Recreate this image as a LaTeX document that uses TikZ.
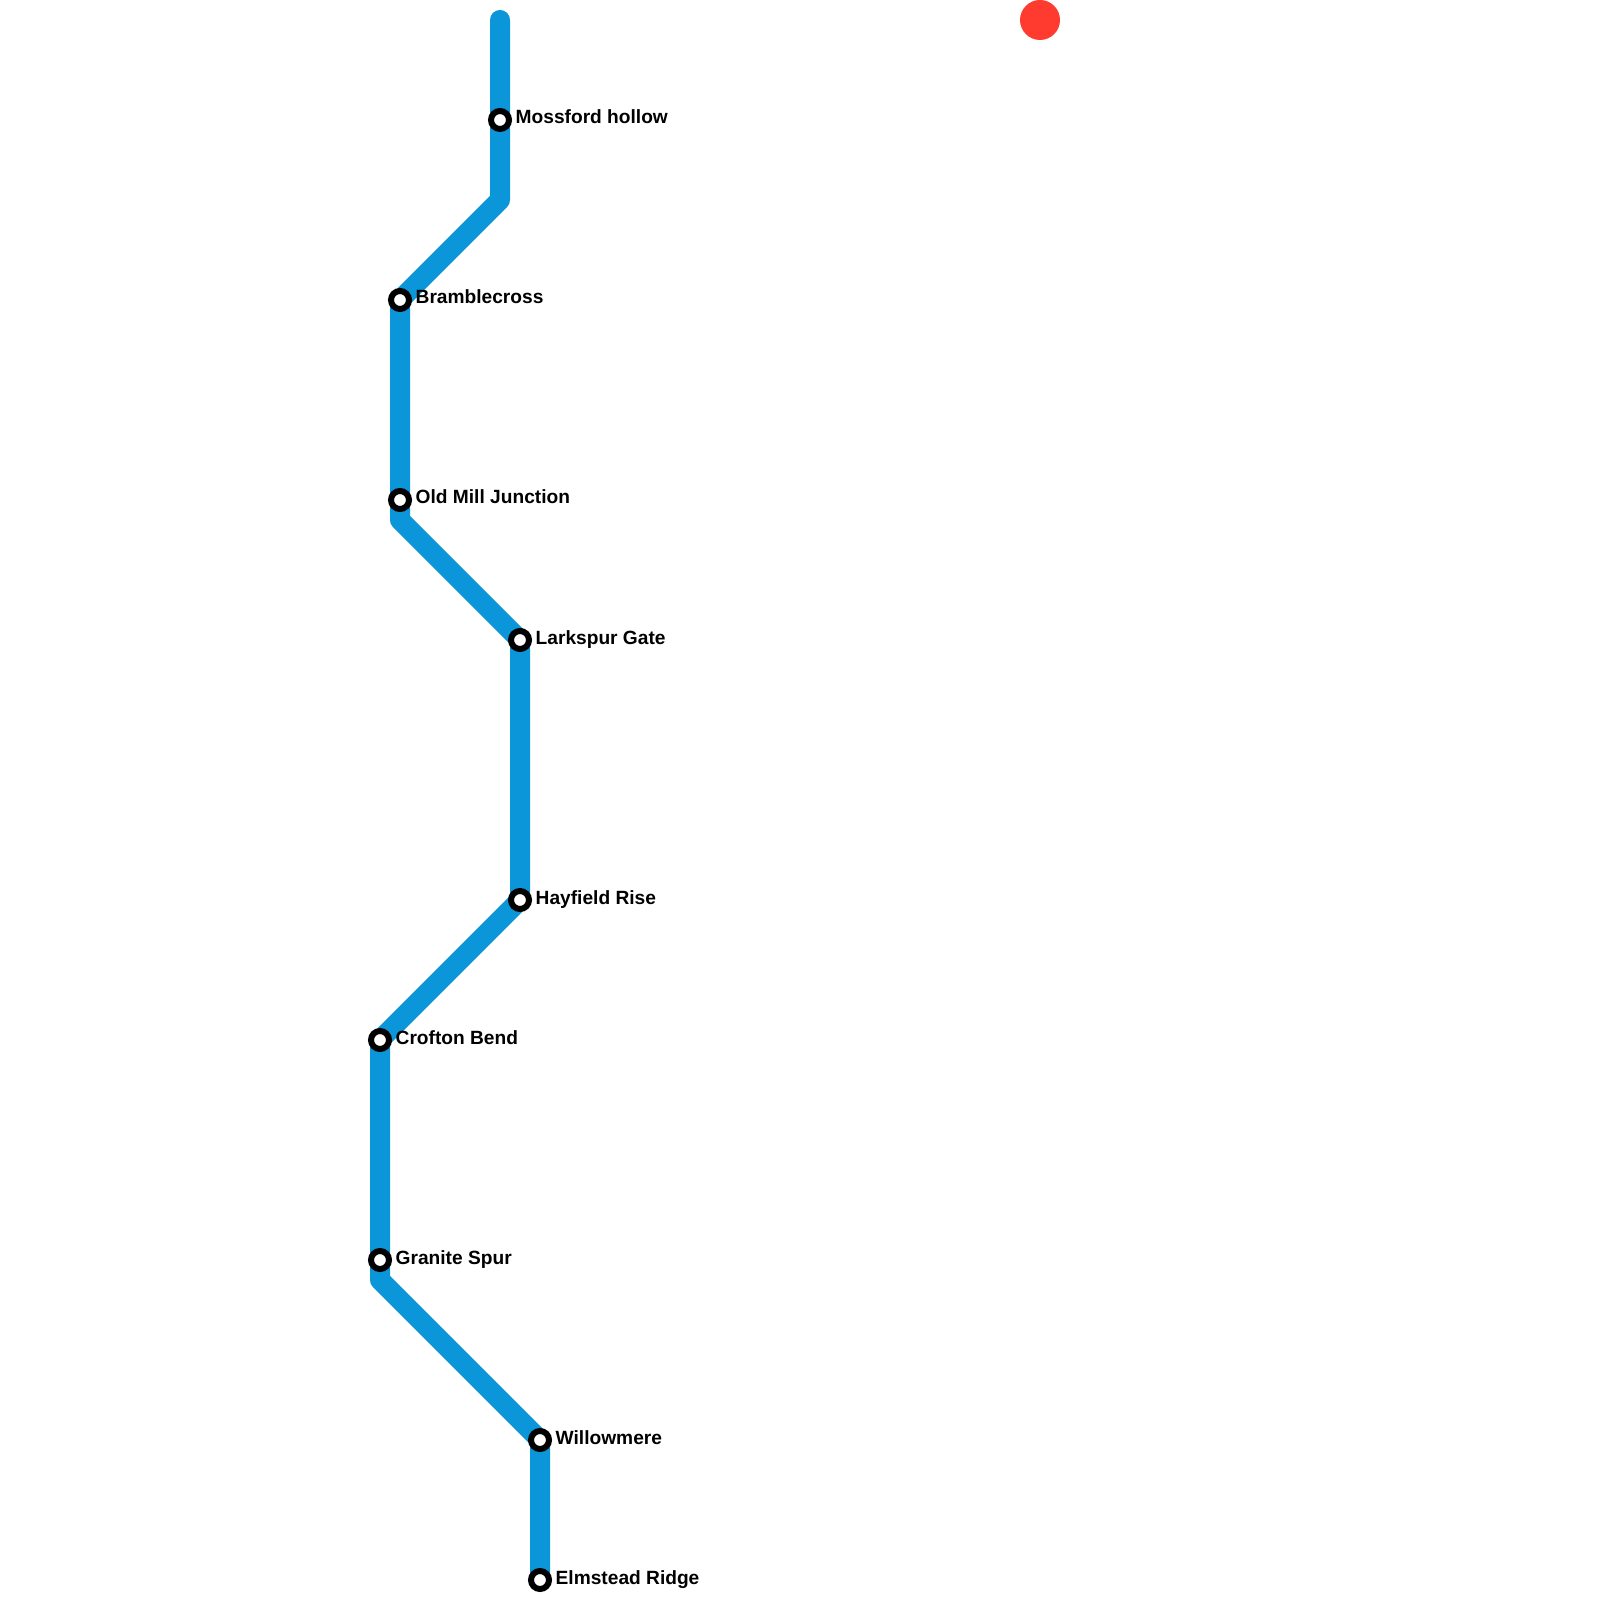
\documentclass[tikz,border=0pt]{standalone}
\usepackage{fontspec}
\setmainfont{Liberation Sans}
\usetikzlibrary{backgrounds}
\definecolor{linea}{HTML}{0A96D8}
\definecolor{marca}{HTML}{FF3B30}
\tikzset{
  tramo/.style={draw=linea,line width=0.2cm,line cap=round,line join=round},
  parada/.style={circle,draw=black,fill=white,line width=0.06cm,minimum size=0.18cm,inner sep=0pt},
  rotulo/.style={anchor=base west,inner sep=0pt,font=\fontsize{5.45pt}{6pt}\selectfont\bfseries}
}

\begin{document}
\begin{tikzpicture}[y=-1cm]
  \useasboundingbox (0,0) rectangle (16,16);
  % paradas y rotulos
  \foreach \name/\x/\y/\txt in {mossford/5/1.2/Mossford hollow,bramble/4/3/Bramblecross,oldmill/4/5/Old Mill Junction,larkspur/5.2/6.4/Larkspur Gate,hayfield/5.2/9/Hayfield Rise,crofton/3.8/10.4/Crofton Bend,granite/3.8/12.6/Granite Spur,willow/5.4/14.4/Willowmere,elmstead/5.4/15.8/Elmstead Ridge} {
    \node[parada] (\name) at (\x,\y) {};
    \node[rotulo] (\name-txt) at ([xshift=0.15cm,yshift=-0.04cm]\name.center) {\txt};
  }
  % puntos de paso
  \coordinate (top) at (5,0.2);
  \coordinate (bendA) at (5,2);
  \coordinate (bendB) at (4,5.2);
  \coordinate (bendC) at (3.8,12.8);
  % linea
  \begin{scope}[on background layer]
    \draw[tramo] (top) -- (mossford.center) -- (bendA) -- (bramble.center) -- (oldmill.center) -- (bendB) -- (larkspur.center) -- (hayfield.center) -- (crofton.center) -- (granite.center) -- (bendC) -- (willow.center) -- (elmstead.center);
  \end{scope}
  % punto rojo
  \fill[marca] (10.4,0.2) circle (0.2);
\end{tikzpicture}
\end{document}
